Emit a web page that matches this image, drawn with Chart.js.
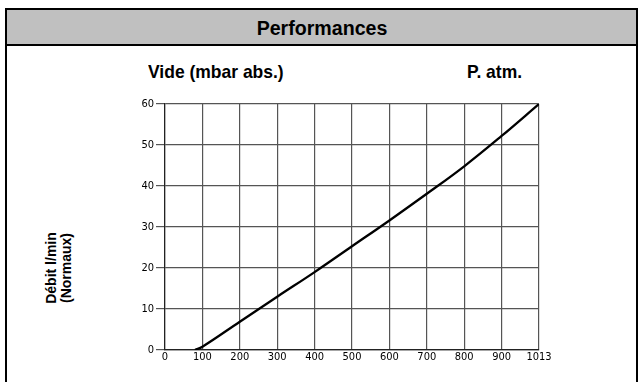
<!DOCTYPE html>
<html>
<head>
<meta charset="utf-8">
<script src="https://cdn.jsdelivr.net/npm/chart.js@4.4.0/dist/chart.umd.min.js"></script>
<style>
  body { margin: 0; background: #fff; }
  #wrap { position: relative; width: 644px; height: 382px; overflow: hidden; }
  #frame { position: absolute; left: 5px; top: 8px; width: 629px; height: 380px;
           border: 2px solid #000; border-bottom: none; }
  #head { position: absolute; left: 0; top: 0; width: 100%; height: 34px; background: #c0c0c0;
          border-bottom: 2px solid #000; }
  .txt { position: absolute; font-family: "Liberation Sans", Arial, sans-serif;
         color: #000; white-space: nowrap; font-weight: bold; }
  #title { left: 0; width: 644px; top: 17px; text-align: center; font-size: 20px;
           transform: scaleX(0.98); }
  #vide { left: 148px; top: 61px; font-size: 19px; transform: scaleX(0.92); transform-origin: left center; }
  #patm { left: 467px; top: 61px; font-size: 19px; transform: scaleX(0.92); transform-origin: left center; }
  #ytitle { left: 59px; top: 268px; font-size: 14px; line-height: 15px; text-align: center;
            transform: translate(-50%, -50%) rotate(-90deg); }
  canvas { position: absolute; left: 0; top: 0; }
</style>
</head>
<body>
<div id="wrap">
  <div id="frame"><div id="head"></div></div>
  <div class="txt" id="title">Performances</div>
  <div class="txt" id="vide">Vide (mbar abs.)</div>
  <div class="txt" id="patm">P. atm.</div>
  <div class="txt" id="ytitle">Débit l/min<br>(Normaux)</div>
  <canvas id="myChart" width="644" height="382"></canvas>
</div>
<script>
// vide (mbar abs.) and débit (l/min normaux)
var vide = [80, 100, 200, 300, 400, 500, 600, 700, 800, 900, 1013];
var debit = [0, 0.8, 6.9, 13, 19, 25.3, 31.6, 38.1, 44.8, 52.2, 60];
var xTicks = [0, 100, 200, 300, 400, 500, 600, 700, 800, 900, 1013];
var yTicks = [0, 10, 20, 30, 40, 50, 60];

// last interval 900..1013 is drawn as wide as the others
function pos(v) { return v > 900 ? 900 + (v - 900) * 100 / 113 : v; }

var points = vide.map(function (v, i) { return { x: pos(v), y: debit[i] }; });

var tickFont = { family: "DejaVu Sans Condensed", size: 11 };

var ctx = document.getElementById('myChart').getContext('2d');
var myChart = new Chart(ctx, {
    type: 'line',
    data: {
        datasets: [{
            data: points,
            borderColor: "#000",
            borderWidth: 2.3,
            pointRadius: 0,
            tension: 0.4,
            fill: false
        }]
    },
    options: {
        responsive: false,
        animation: false,
        layout: { padding: { left: 0, right: 105, top: 104, bottom: 0 } },
        plugins: { legend: { display: false }, tooltip: { enabled: false } },
        scales: {
            x: {
                type: 'linear',
                min: 0,
                max: 1000,
                afterBuildTicks: function (s) {
                    s.ticks = xTicks.map(function (v) { return { value: pos(v) }; });
                },
                afterFit: function (s) { s.height = 32; },
                ticks: {
                    color: "#000",
                    font: tickFont,
                    padding: 1,
                    maxRotation: 0,
                    callback: function (v, i) { return String(xTicks[i]); }
                },
                grid: { color: "#555", lineWidth: 1.2, drawTicks: false },
                border: { color: "#222", width: 1.2 }
            },
            y: {
                min: 0,
                max: 60,
                afterBuildTicks: function (s) {
                    s.ticks = yTicks.map(function (v) { return { value: v }; });
                },
                afterFit: function (s) { s.width = 165; },
                ticks: { color: "#000", font: tickFont, padding: 2 },
                grid: { color: "#555", lineWidth: 1.2, tickLength: 9 },
                border: { color: "#222", width: 1.2 }
            }
        }
    }
});
</script>
</body>
</html>
